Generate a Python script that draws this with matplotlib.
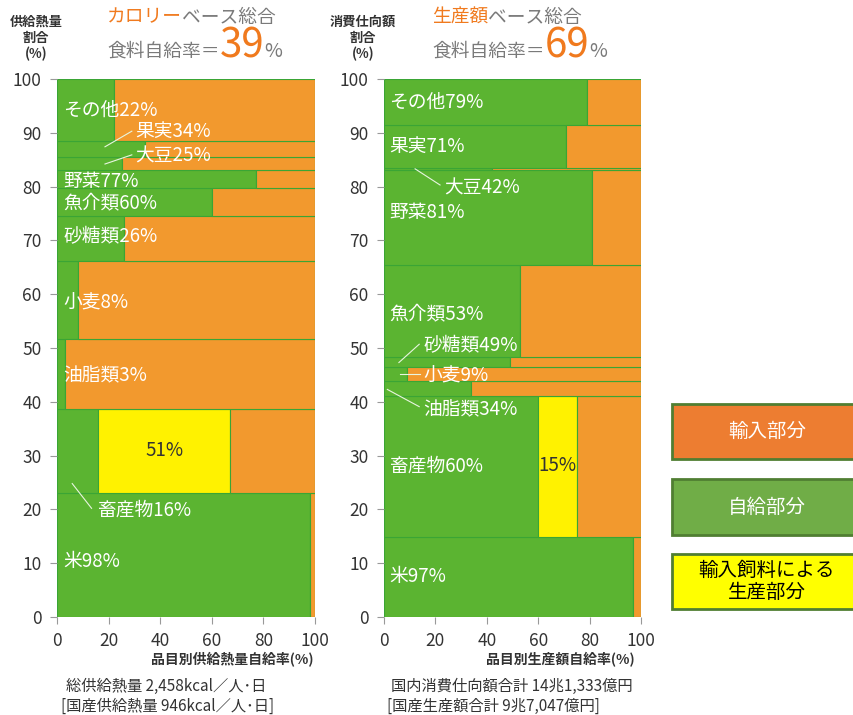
import numpy as np
import matplotlib
matplotlib.use('Agg')
import matplotlib.pyplot as plt
from matplotlib.patches import Rectangle

plt.rcParams['font.family'] = ['Noto Sans CJK JP', 'DejaVu Sans']

# --- data -----------------------------------------------------------------
items = ['米', '畜産物', '油脂類', '小麦', '砂糖類', '魚介類', '野菜', '大豆', '果実', 'その他']

# calorie basis: share of supply (%) and self-sufficiency rate (%)
cal_share = [23.1, 15.5, 13.1, 14.5, 8.4, 5.1, 3.3, 2.5, 3.0, 11.5]
cal_rate = [98, 16, 3, 8, 26, 60, 77, 25, 34, 22]
cal_feed = [0, 51, 0, 0, 0, 0, 0, 0, 0, 0]   # produced with imported feed

# production value basis
val_share = [14.8, 26.3, 2.8, 2.5, 1.9, 17.1, 17.6, 0.4, 8.0, 8.6]
val_rate = [97, 60, 34, 9, 49, 53, 81, 42, 71, 79]
val_feed = [0, 15, 0, 0, 0, 0, 0, 0, 0, 0]

GREEN = '#5bb431'
ORANGE = '#f2992e'
YELLOW = '#fff200'
EDGE = '#3aa535'
GRAY = '#333333'

fig = plt.figure(figsize=(8.54, 7.15), dpi=100)
W, H = 854, 715


def fx(px):
    return px / W


def fy(py):
    return 1 - py / H


def draw_chart(ax, share, rate, feed):
    share = np.array(share)
    bottoms = np.concatenate([[0], np.cumsum(share)[:-1]])
    rate = np.array(rate)
    feed = np.array(feed)
    ax.barh(bottoms, rate, height=share, left=0, align='edge',
            color=GREEN, edgecolor=EDGE, linewidth=0.8)
    ax.barh(bottoms, feed, height=share, left=rate, align='edge',
            color=YELLOW, edgecolor=EDGE, linewidth=0.8)
    ax.barh(bottoms, 100 - rate - feed, height=share, left=rate + feed, align='edge',
            color=ORANGE, edgecolor=EDGE, linewidth=0.8)
    ax.set_xlim(0, 100)
    ax.set_ylim(0, 100)
    ax.set_xticks(range(0, 101, 20))
    ax.set_yticks(range(0, 101, 10))
    for s in ax.spines.values():
        s.set_visible(False)
    ax.tick_params(length=5, width=0.8, color='#999999', labelsize=12.5,
                   labelcolor=GRAY, pad=6)
    return bottoms


def put_labels(ax, rate_list, placements, leaders):
    for i, (x, y) in placements.items():
        ax.text(x, y, f'{items[i]}{rate_list[i]}%', color='white', fontsize=13.5,
                va='center', ha='left')
    for (x0, y0, x1, y1) in leaders:
        ax.plot([x0, x1], [y0, y1], color='#e8f5e0', lw=0.8)


# --- left chart (calorie basis) --------------------------------------------
axL = fig.add_axes([fx(57), fy(617), fx(258), 538 / H])
draw_chart(axL, cal_share, cal_rate, cal_feed)
left_pos = {9: (2.5, 94.2), 8: (30.5, 90.3), 7: (30.5, 85.6), 6: (2.5, 81.0), 5: (2.5, 77.0),
            4: (2.5, 70.7), 3: (2.5, 58.3), 2: (2.5, 44.9), 1: (15.5, 19.9), 0: (2.5, 10.3)}
left_leaders = [(18.6, 87.4, 29, 90.3), (18.6, 84.2, 29, 85.9), (5.9, 24.8, 13.4, 20.2)]
put_labels(axL, cal_rate, left_pos, left_leaders)
axL.text(cal_rate[1] + cal_feed[1] / 2, 31.0, f'{cal_feed[1]}%', color=GRAY,
         fontsize=13.5, ha='center', va='center')

# --- right chart (production value basis) ----------------------------------
axR = fig.add_axes([fx(384), fy(617), fx(257), 538 / H])
draw_chart(axR, val_share, val_rate, val_feed)
right_pos = {9: (2, 95.7), 8: (2, 87.4), 7: (23.5, 79.7), 6: (2, 75.1),
             5: (2, 56.3), 4: (15.5, 50.4), 3: (15.5, 44.8), 2: (15.3, 38.5),
             1: (2, 28.1), 0: (2, 7.5)}
right_leaders = [(12.1, 83.3, 21.8, 80.3), (5.8, 47.3, 13.7, 50.7),
                 (6.2, 45.2, 14, 45.2), (1.3, 42.3, 13.7, 39.1)]
put_labels(axR, val_rate, right_pos, right_leaders)
axR.text(val_rate[1] + val_feed[1] / 2, 28.1, f'{val_feed[1]}%', color=GRAY,
         fontsize=13.5, ha='center', va='center')

# --- headers ---------------------------------------------------------------
fig.canvas.draw()
renderer = fig.canvas.get_renderer()


def text_row(x_px, y_px, pieces, va='baseline'):
    x = fx(x_px)
    for s, color, size in pieces:
        t = fig.text(x, fy(y_px), s, color=color, fontsize=size, va=va, ha='left')
        bb = t.get_window_extent(renderer)
        x = bb.x1 / fig.bbox.width


HEAD_OR = '#f07a1e'
HEAD_GR = '#7a7a7a'
text_row(107, 17, [('カロリー', HEAD_OR, 13.5), ('ベース総合', HEAD_GR, 13.5)], va='center')
text_row(107, 57, [('食料自給率＝', HEAD_GR, 13.5), ('39', HEAD_OR, 29), ('%', HEAD_GR, 14)])
text_row(432, 17, [('生産額', HEAD_OR, 13.5), ('ベース総合', HEAD_GR, 13.5)], va='center')
text_row(432, 57, [('食料自給率＝', HEAD_GR, 13.5), ('69', HEAD_OR, 29), ('%', HEAD_GR, 14)])

fig.text(fx(36), fy(38), '供給熱量\n割合\n(%)', ha='center', va='center',
         fontsize=9.5, fontweight='bold', color=GRAY, linespacing=1.15)
fig.text(fx(363), fy(38), '消費仕向額\n割合\n(%)', ha='center', va='center',
         fontsize=9.5, fontweight='bold', color=GRAY, linespacing=1.15)

# --- axis titles & footnotes -----------------------------------------------
fig.text(fx(232), fy(660), '品目別供給熱量自給率(%)', ha='center', va='center',
         fontsize=10, fontweight='bold', color=GRAY)
fig.text(fx(560), fy(660), '品目別生産額自給率(%)', ha='center', va='center',
         fontsize=10, fontweight='bold', color=GRAY)
fig.text(fx(66), fy(686), '総供給熱量 2,458kcal／人･日', ha='left', va='center',
         fontsize=11, color=GRAY)
fig.text(fx(61), fy(706), '[国産供給熱量 946kcal／人･日]', ha='left', va='center',
         fontsize=11, color=GRAY)
fig.text(fx(391), fy(686), '国内消費仕向額合計 14兆1,333億円', ha='left', va='center',
         fontsize=11, color=GRAY)
fig.text(fx(387), fy(706), '[国産生産額合計 9兆7,047億円]', ha='left', va='center',
         fontsize=11, color=GRAY)

# --- legend boxes ----------------------------------------------------------
legend = [('輸入部分', '#ed7d31', 'white', 404, 459),
          ('自給部分', '#70ad47', 'white', 479, 535),
          ('輸入飼料による\n生産部分', '#ffff00', 'black', 554, 609)]
for label, fc, tc, top, bot in legend:
    fig.add_artist(Rectangle((fx(672), fy(bot)), fx(200), (bot - top) / H,
                             transform=fig.transFigure, facecolor=fc,
                             edgecolor='#507e32', linewidth=2))
    fig.text(fx(767), fy((top + bot) / 2), label, ha='center', va='center',
             color=tc, fontsize=14, linespacing=1.1)

fig.savefig('out.png', dpi=100)
